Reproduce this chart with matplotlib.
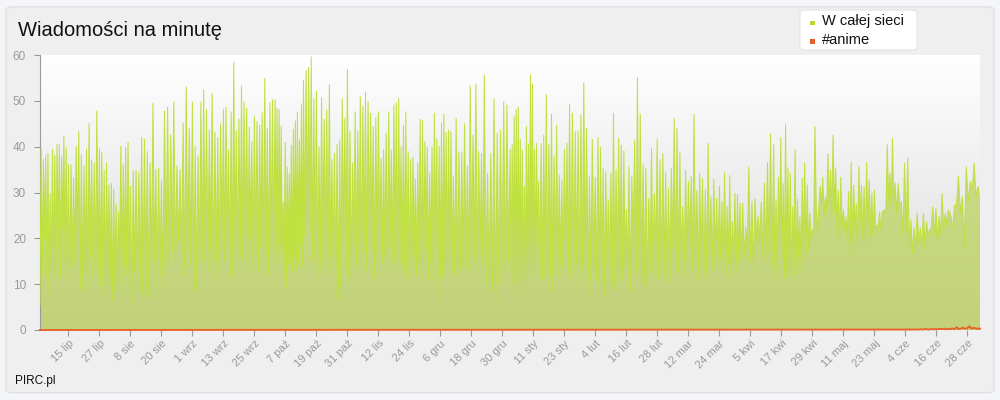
import numpy as np
import matplotlib
matplotlib.use("Agg")
import matplotlib.pyplot as plt
import matplotlib.dates as mdates
from matplotlib.patches import FancyBboxPatch, Rectangle, PathPatch
from matplotlib.colors import LinearSegmentedColormap

plt.rcParams['font.family'] = ['Liberation Sans', 'DejaVu Sans']

# granice odcinkow (ok. 12 dni) i odczytane wartosci w kazdym z nich
seg_edges = ["2010-07-04", "2010-07-15", "2010-07-27", "2010-08-08", "2010-08-20",
             "2010-09-01", "2010-09-13", "2010-10-03", "2010-10-14", "2010-10-26",
             "2010-11-07", "2010-11-18", "2010-11-30", "2010-12-11", "2010-12-23",
             "2011-01-02", "2011-01-13", "2011-01-25", "2011-02-05", "2011-02-17",
             "2011-03-01", "2011-03-12", "2011-03-24", "2011-04-02", "2011-04-14",
             "2011-04-26", "2011-05-07", "2011-05-19", "2011-05-31", "2011-06-11",
             "2011-06-23", "2011-07-02 21:00"]

segments = [
    [5.5, 39.6, 12, 37.2, 20, 38.1, 11.6, 38.5, 7.3, 29.8, 11.3, 39.4, 10.9, 38.1, 13, 40.5, 18, 40.4, 11.5, 38, 22, 42.3, 15, 39.8, 10.5],
    [36.2, 10.2, 36.0, 14, 33.2, 15.3, 40, 19.3, 43.3, 8.4, 38.2, 9.1, 35.8, 12.4, 39.5, 8, 45.1, 16, 37.1, 12, 36.5, 9.5, 47.8, 13],
    [39.6, 9.8, 38.8, 7.6, 34.9, 8, 36.4, 11.6, 31.6, 9.8, 32, 6.5, 30.7, 8.7, 27.5, 9, 25.8, 16, 40.1, 10, 36, 14, 39.9, 12, 40.9, 9],
    [31.4, 5.1, 34.8, 12.7, 34.8, 11.6, 34.4, 8.7, 42, 7.3, 41.6, 7.6, 38.9, 6.9, 36.4, 13, 49.5, 15, 35, 10, 35.3, 12],
    [32.7, 9.5, 47.8, 13.8, 48.6, 14.9, 42.5, 17, 49.8, 14.9, 35.8, 19.3, 35, 15.3, 45.1, 12, 53, 17, 44, 14],
    [49.7, 8.7, 40.1, 8.7, 38, 13.8, 49.7, 15.3, 52.4, 14.5, 48.1, 12.7, 43.6, 17.5, 51.6, 8.7, 43.1, 15, 42, 12, 45, 17],
    [48.2, 14.9, 48.6, 18.9, 39.3, 11.3, 47.6, 11.6, 58.4, 17.5, 43.4, 13.5, 46, 16, 53.2, 15.3, 49.8, 18.9, 48.4, 14.9,
     44.2, 20, 41.2, 12, 46.5, 16, 45.5, 13, 44.7, 18, 47.4, 14, 54.9, 16, 44, 12, 49.6, 17, 50.2, 15],
    [50.2, 17.8, 48.4, 14.5, 48.1, 18.9, 44.5, 17, 27.9, 10.9, 40.9, 9.1, 35.5, 14.5, 34.2, 14.2, 40.3, 12.4, 43.8, 16, 45.6, 13, 47.6, 15, 41.5, 19, 49.3, 14],
    [54.5, 20.4, 56.6, 24, 57.3, 21.8, 59.6, 15.3, 50.5, 14.5, 52.1, 10.9, 39.9, 13, 50.7, 15.3, 46, 18, 48.1, 12, 53.5, 16, 37.1, 14],
    [38.5, 10.2, 40.5, 6.9, 41.5, 8.7, 50.5, 18.2, 46.2, 13.5, 56.9, 11.6, 43.3, 10.5, 36.4, 18.5, 47.6, 14, 43.4, 16, 50.9, 12, 48.7, 17],
    [52, 12.7, 49.8, 18.2, 47.3, 17.5, 44.4, 11.3, 46.3, 15.6, 47.6, 17.5, 37.5, 14.5, 39.4, 16, 42.9, 13, 47.6, 18, 39.3, 15],
    [49.1, 14.5, 49.5, 10.5, 50.5, 14.5, 40, 14.2, 44.7, 12.4, 47.6, 10.9, 38.9, 8, 37.2, 13, 37.7, 16, 32.9, 12, 36.4, 15, 46, 11, 45.7, 14],
    [41.1, 17.5, 39.9, 10.9, 34.3, 14.5, 39.9, 10.5, 47.3, 17.8, 41.6, 6.5, 40.1, 11.3, 45.1, 11.6, 47.1, 15, 43.1, 13, 43.6, 16, 43.3, 12],
    [33.6, 12.4, 46.2, 10.5, 38.8, 13, 38.7, 13.8, 45, 13.5, 35.8, 13, 53.2, 17.1, 42.5, 15, 53.7, 12, 38.9, 16, 38.5, 14],
    [55.6, 10.2, 34.2, 10.9, 38.5, 8.7, 50.5, 5.5, 42.9, 9.8, 43.6, 13, 49.8, 12, 49.1, 15],
    [39.4, 12.4, 40.4, 10.2, 46.7, 10.2, 48.1, 7.6, 48.6, 10.9, 41.6, 10.9, 39.3, 9.8, 31.3, 8.4, 44.4, 13, 40.6, 11, 55.6, 14, 53.7, 10, 39.4, 12, 40.7, 15],
    [32.4, 12, 40.6, 10.9, 42.5, 11.3, 51.3, 6.2, 40.4, 12, 47.1, 8.4, 38, 12.4, 44.7, 11.6, 33.8, 14, 32.7, 12, 39.4, 16, 40.7, 13],
    [49.2, 10.2, 47.3, 12.4, 43.3, 14.5, 43.4, 8.7, 46.9, 13, 54, 14.5, 44, 7.3, 33.5, 10.9, 41.6, 13, 33.3, 11],
    [42, 10.2, 39.9, 9.8, 35.3, 7.6, 34.5, 13.8, 28.4, 10.9, 34.3, 9.5, 47.3, 8.7, 35, 10.2, 41.8, 13, 40.4, 11, 39.1, 14, 26.2, 12],
    [35.6, 8.4, 33.5, 17.5, 41.3, 11.6, 55.1, 13, 47.1, 10.9, 36.2, 10.2, 35.3, 8.7, 28.7, 13, 39.6, 12, 29.8, 15, 41.6, 11],
    [37.1, 10.9, 38.5, 12.4, 34.5, 10.9, 30.9, 10.2, 35.3, 17.5, 46.2, 12.4, 44, 12.4, 38.7, 14, 26.9, 12, 34.9, 15],
    [32.4, 18.2, 33.5, 13, 47.1, 15.3, 30.4, 10.9, 34.2, 13.8, 33.1, 10.5, 30.7, 12.4, 40.7, 15.3, 29.1, 13, 32.9, 16, 28.7, 14],
    [31.4, 15.3, 28, 13.5, 34.3, 12.4, 26.9, 14.5, 33.7, 11.3, 23.6, 14.5, 29.8, 13, 29.6, 15, 27.6, 14],
    [27.6, 15.6, 22.5, 17.1, 35.5, 14.9, 28, 12.7, 28.7, 19.3, 24.7, 19.6, 28, 16, 32.1, 15, 36.5, 17, 42.9, 14],
    [40.5, 11.3, 28.5, 12.4, 33.3, 19.3, 42, 15.6, 31.9, 11.3, 45, 13, 35.3, 11.6, 34.2, 9.8, 26.9, 14, 39.4, 12, 28.5, 16, 24.7, 13, 33.1, 15],
    [36.5, 15.6, 31.6, 17.5, 25.5, 20, 21.8, 22.2, 44.4, 26.2, 21.1, 26.9, 31.3, 27.3, 33.3, 25, 29.1, 26, 38.5, 27, 34.9, 25],
    [42.5, 26, 35.3, 20.7, 30.5, 19.3, 33.3, 22.5, 26.2, 21.8, 24.7, 20, 30.2, 15.6, 36.7, 19, 31.6, 22, 27.6, 18, 35.6, 24, 31.6, 20],
    [31.3, 18.9, 36.5, 22.5, 32.7, 20.4, 29.8, 20, 30.5, 21, 22.9, 22.5, 25.8, 21.8, 25.6, 26.2, 25.5, 26.9, 40.4, 28, 34.2, 26, 41.8, 27],
    [32.1, 25.5, 32, 26.9, 28, 20.4, 36.4, 21.5, 37.5, 17.8, 24, 16.7, 22.2, 17.8, 25.5, 19, 22.2, 18],
    [25.5, 17.8, 23.6, 20.7, 21.8, 22.2, 26.9, 20.4, 26.5, 19.3, 24.7, 20.7, 29.8, 21.8, 25.5, 23, 26.2, 25.5, 24.4, 22],
    [27.3, 26.9, 33.5, 25.5, 29.1, 18.2, 35.6, 28, 32.4, 30.5, 36.4, 29, 31.3, 28.4],
]

# #anime: zero do ok. 9 czerwca, potem bardzo male wartosci
anime_from = "2011-06-09"
anime_tail = [0.1, 0.15, 0.1, 0.2, 0.15, 0.1, 0.2, 0.15, 0.2, 0.15, 0.25, 0.2, 0.3, 0.15, 0.25,
              0.2, 0.35, 0.15, 0.6, 0.2, 0.3, 0.5, 0.25, 0.4, 0.8, 0.3, 0.45, 0.35, 0.25, 0.3]

months_pl = ["sty", "lut", "mar", "kwi", "maj", "cze", "lip", "sie", "wrz", "paź", "lis", "gru"]
first_tick = "2010-07-15"
tick_step_days = 12

# --- dane -> wspolrzedne czasu
edges = mdates.datestr2num(seg_edges)
xs, ys = [], []
for i, seg in enumerate(segments):
    last = i == len(segments) - 1
    xs.extend(np.linspace(edges[i], edges[i + 1], len(seg), endpoint=last))
    ys.extend(seg)
xs = np.array(xs)
ys = np.array(ys)

a0 = mdates.datestr2num(anime_from)
ax_anime = np.concatenate([[edges[0]], np.linspace(a0, edges[-1], len(anime_tail))])
ay_anime = np.concatenate([[0], anime_tail])

fig = plt.figure(figsize=(10, 4), dpi=100, facecolor='#f4f5f9')

# panel tla
fig.patches.append(FancyBboxPatch((0.006, 0.018), 0.988, 0.965, boxstyle="round,pad=0,rounding_size=0.008",
                                  transform=fig.transFigure, facecolor='#efefef', edgecolor='#e0e0e3', lw=1, zorder=-5))

ax = fig.add_axes([0.04, 0.175, 0.94, 0.6875])
ax.set_zorder(1)
ax.set_facecolor('none')

# gradient tla wykresu
bg = LinearSegmentedColormap.from_list('bg', ['#d9d9d9', '#ffffff'])
ax.imshow(np.linspace(0, 1, 256).reshape(-1, 1), cmap=bg, aspect='auto', origin='lower',
          extent=[0, 1, 0, 1], transform=ax.transAxes, zorder=0)

# wypelnienie pod linia z gradientem
poly = ax.fill_between(xs, 0, ys, color='none', lw=0)
clip = PathPatch(poly.get_paths()[0], transform=ax.transData, facecolor='none', edgecolor='none')
ax.add_patch(clip)
gr = LinearSegmentedColormap.from_list('gr', ['#c3d27a', '#cfe18c'])
g = ax.imshow(np.linspace(0, 1, 256).reshape(-1, 1), cmap=gr, aspect='auto', origin='lower',
              extent=[edges[0], edges[-1], 0, 60], zorder=1)
g.set_clip_path(clip)

ax.plot(xs, ys, color='#c0e040', lw=0.75, zorder=3)
ax.plot(ax_anime, ay_anime, color='#e8642a', lw=1.4, zorder=4, clip_on=False)

ax.set_xlim(edges[0], edges[-1])
ax.set_ylim(0, 60)
ax.set_yticks(range(0, 61, 10))

ticks = np.arange(np.datetime64(first_tick), np.datetime64(seg_edges[-1][:10]),
                  np.timedelta64(tick_step_days, 'D'))
tick_dates = ticks.astype('datetime64[D]').astype(object)
ax.set_xticks(mdates.date2num(tick_dates))
ax.set_xticklabels([f"{d.day} {months_pl[d.month - 1]}" for d in tick_dates],
                   rotation=45, ha='right', rotation_mode='anchor')

for s in ['top', 'right', 'bottom']:
    ax.spines[s].set_visible(False)
ax.spines['left'].set_color('#9a9a9a')
ax.tick_params(axis='y', colors='#9a9a9a', labelcolor='#9a9a9a', length=4, pad=6, labelsize=8.5)
ax.tick_params(axis='x', colors='#9a9a9a', labelcolor='#9a9a9a', length=4, pad=2, labelsize=8)

fig.text(0.018, 1 - 30 / 400, "Wiadomości na minutę", fontsize=14.5, va='center', ha='left', color='#111111')
fig.text(0.015, 1 - 381 / 400, "PIRC.pl", fontsize=8.5, va='center', ha='left', color='#111111')

# legenda
fig.patches.append(FancyBboxPatch((0.800, 1 - 50 / 400), 0.117, 40 / 400, boxstyle="round,pad=0,rounding_size=0.006",
                                  transform=fig.transFigure, facecolor='white', edgecolor='#e4e4e4', lw=0.8, zorder=5))
for i, (name, col) in enumerate([("W całej sieci", '#b7d82e'), ("#anime", '#e0602a')]):
    yy = 1 - (21 + 19 * i) / 400
    fig.patches.append(Rectangle((0.810, 1 - (25 + 18.5 * i) / 400), 0.0045, 4.5 / 400, transform=fig.transFigure,
                                 facecolor=col, edgecolor='none', zorder=6))
    fig.text(0.822, yy, name, fontsize=10.5, va='center', ha='left', color='#111111', zorder=7)

fig.savefig("out.png", dpi=100, facecolor=fig.get_facecolor())
